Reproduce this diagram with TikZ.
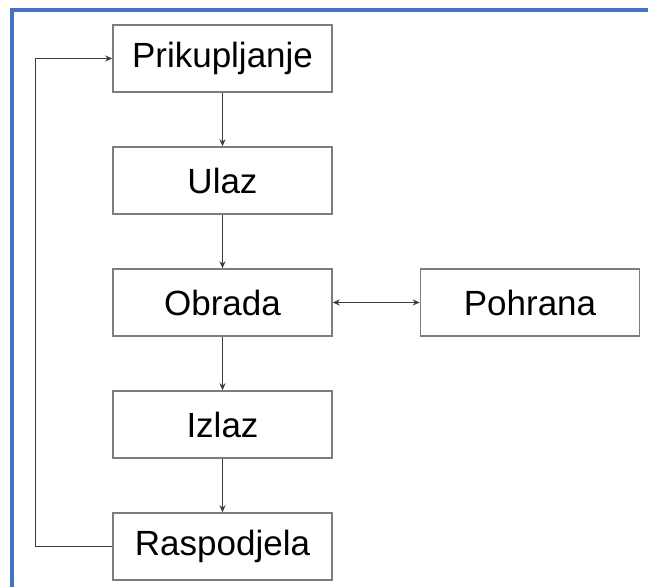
\documentclass[tikz,border=0pt]{standalone}
\usepackage{fontspec}
\setmainfont{Liberation Sans}
\usetikzlibrary{positioning,arrows.meta}
\definecolor{framecol}{RGB}{68,114,196}
\definecolor{boxcol}{RGB}{125,125,125}
\definecolor{linecol}{RGB}{60,60,60}
\begin{document}
\begin{tikzpicture}[
  box/.style={draw=boxcol, line width=0.75pt, minimum width=109.5pt, minimum height=33.5pt,
              inner sep=0pt, font=\fontsize{17.5}{21}\selectfont},
  conn/.style={draw=linecol, line width=0.5pt, -{Stealth[length=3.5pt,width=3pt]}},
  both/.style={draw=linecol, line width=0.5pt, {Stealth[length=3.5pt,width=3pt]}-{Stealth[length=3.5pt,width=3pt]}},
  node distance=26.75pt]
  \useasboundingbox (0,0) rectangle (324pt,-293.5pt);
  % frame
  \draw[framecol, line width=1.6pt] (340pt,-5pt) -- (6pt,-5pt) -- (6pt,-310pt);
  % boxes
  \node[box] (prik) at (111.25pt,-29.25pt) {Prikupljanje};
  \node[box, below=of prik] (ulaz) {Ulaz};
  \node[box, below=of ulaz] (obrada) {Obrada};
  \node[box, below=of obrada] (izlaz) {Izlaz};
  \node[box, below=of izlaz] (rasp) {Raspodjela};
  \node[box, right=43.5pt of obrada] (pohrana) {Pohrana};
  % connectors
  \draw[conn] (prik) -- (ulaz);
  \draw[conn] (ulaz) -- (obrada);
  \draw[conn] (obrada) -- (izlaz);
  \draw[conn] (izlaz) -- (rasp);
  \draw[both] (obrada) -- (pohrana);
  \draw[conn] (rasp.west) -- ++(-38.5pt,0) |- (prik.west);
\end{tikzpicture}
\end{document}
